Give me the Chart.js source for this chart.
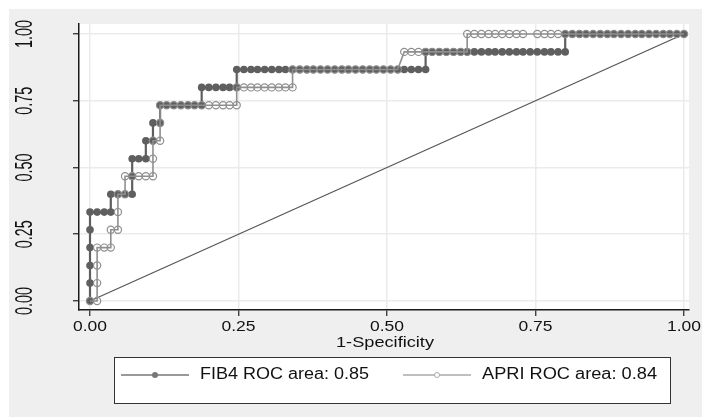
<!DOCTYPE html>
<html>
<head>
<meta charset="utf-8">
<script src="https://cdn.jsdelivr.net/npm/chart.js@4.4.1/dist/chart.umd.min.js"></script>
<style>
  html, body { margin: 0; padding: 0; background: #fff; overflow: hidden; }
  #wrap { position: absolute; left: 9px; top: 9px; }
  canvas { display: block; }
</style>
</head>
<body>
<div id="wrap"><canvas id="roc" width="693" height="408"></canvas></div>
<script>
// axis ticks (same on both axes)
const tickValues = [0, 0.25, 0.5, 0.75, 1];
const tickLabels = ['0.00', '0.25', '0.50', '0.75', '1.00'];
const xTitle = '1-Specificity';
const seriesNames = ['FIB4 ROC area: 0.85', 'APRI ROC area: 0.84'];

// [1-specificity, sensitivity]
const fib4Points = [
    [0, 0], [0, .067], [0, .133], [0, .2], [0, .267], [0, .333],
    [.012, .333], [.024, .333], [.035, .333],
    [.035, .4], [.047, .4], [.059, .4], [.071, .4],
    [.071, .467], [.071, .533], [.082, .533], [.094, .533],
    [.094, .6], [.106, .6],
    [.106, .667], [.118, .667],
    [.118, .733], [.129, .733], [.141, .733], [.153, .733], [.165, .733], [.176, .733], [.188, .733],
    [.188, .8], [.2, .8], [.212, .8], [.224, .8], [.235, .8], [.247, .8],
    [.247, .867], [.259, .867], [.271, .867], [.282, .867], [.294, .867], [.306, .867], [.318, .867],
    [.329, .867], [.341, .867], [.353, .867], [.365, .867], [.376, .867], [.388, .867], [.4, .867],
    [.412, .867], [.424, .867], [.435, .867], [.447, .867], [.459, .867], [.471, .867], [.482, .867],
    [.494, .867], [.506, .867], [.518, .867], [.529, .867], [.541, .867], [.553, .867], [.565, .867],
    [.565, .933], [.576, .933], [.588, .933], [.6, .933], [.612, .933], [.624, .933], [.635, .933],
    [.647, .933], [.659, .933], [.671, .933], [.682, .933], [.694, .933], [.706, .933], [.718, .933],
    [.729, .933], [.741, .933], [.753, .933], [.765, .933], [.776, .933], [.788, .933], [.8, .933],
    [.8, 1], [.812, 1], [.824, 1], [.835, 1], [.847, 1], [.859, 1], [.871, 1], [.882, 1], [.894, 1],
    [.906, 1], [.918, 1], [.929, 1], [.941, 1], [.953, 1], [.965, 1], [.976, 1], [.988, 1], [1, 1]
];

const apriPoints = [
    [0, 0], [.012, 0], [.012, .067], [.012, .133], [.012, .2], [.024, .2], [.035, .2],
    [.035, .267], [.047, .267], [.047, .333], [.047, .4], [.059, .4],
    [.059, .467], [.071, .467], [.082, .467], [.094, .467], [.106, .467],
    [.106, .533], [.106, .6], [.118, .6], [.118, .667], [.118, .733],
    [.129, .733], [.141, .733], [.153, .733], [.165, .733], [.176, .733], [.188, .733],
    [.2, .733], [.212, .733], [.224, .733], [.235, .733], [.247, .733],
    [.247, .8], [.259, .8], [.271, .8], [.282, .8], [.294, .8], [.306, .8], [.318, .8], [.329, .8], [.341, .8],
    [.341, .867], [.353, .867], [.365, .867], [.376, .867], [.388, .867], [.4, .867], [.412, .867],
    [.424, .867], [.435, .867], [.447, .867], [.459, .867], [.471, .867], [.482, .867], [.494, .867],
    [.506, .867], [.518, .867],
    [.529, .933], [.541, .933], [.553, .933], [.565, .933], [.576, .933], [.588, .933], [.6, .933],
    [.612, .933], [.624, .933], [.635, .933],
    [.635, 1], [.647, 1], [.659, 1], [.671, 1], [.682, 1], [.694, 1], [.706, 1], [.718, 1], [.729, 1],
    [.753, 1], [.765, 1], [.776, 1], [.788, 1], [.8, 1], [.812, 1], [.824, 1], [.835, 1], [.847, 1],
    [.859, 1], [.871, 1], [.882, 1], [.894, 1], [.906, 1], [.918, 1], [.929, 1], [.941, 1], [.953, 1],
    [.965, 1], [.976, 1], [.988, 1], [1, 1]
];

const refLine = [[0, 0], [1, 1]];

const FIB4_COLOR = '#5f5f5f';
const APRI_COLOR = '#8f8f8f';
const FONT = '"Liberation Sans", Arial, sans-serif';

function toXY(points) {
    return points.map(p => ({ x: p[0], y: p[1] }));
}

// draw text squeezed/stretched to a given length, like the stretched stata export
function fitText(ctx, txt, x, y, length, rotated, thick) {
    ctx.save();
    ctx.translate(x, y);
    if (rotated) ctx.rotate(-Math.PI / 2);
    const w = ctx.measureText(txt).width;
    ctx.scale(length ? length / w : 1, thick || 1);
    ctx.fillText(txt, 0, 0);
    ctx.restore();
}

function legendItem(ctx, x, y, color, lineW, filled, r, label, textLen) {
    ctx.strokeStyle = color;
    ctx.lineWidth = lineW;
    ctx.beginPath();
    ctx.moveTo(x, y);
    ctx.lineTo(x + 68, y);
    ctx.stroke();
    ctx.beginPath();
    ctx.arc(x + 34, y, r, 0, Math.PI * 2);
    if (filled) {
        ctx.fillStyle = color;
        ctx.fill();
    } else {
        ctx.fillStyle = '#fff';
        ctx.fill();
        ctx.lineWidth = 1;
        ctx.stroke();
    }
    ctx.fillStyle = '#111';
    ctx.textAlign = 'left';
    ctx.textBaseline = 'middle';
    ctx.font = '16px ' + FONT;
    fitText(ctx, label, x + 79, y, textLen);
}

const stataLook = {
    id: 'stataLook',
    beforeDraw(chart) {
        const { ctx, chartArea: a } = chart;
        ctx.save();
        ctx.fillStyle = '#efefef';
        ctx.fillRect(0, 0, chart.width, chart.height);
        ctx.fillStyle = '#fff';
        ctx.fillRect(a.left, a.top, a.right - a.left, a.bottom - a.top);
        ctx.restore();
    },
    afterDraw(chart) {
        const { ctx } = chart;
        const xs = chart.scales.x;
        const ys = chart.scales.y;
        ctx.save();
        ctx.fillStyle = '#111';
        ctx.textAlign = 'center';
        ctx.textBaseline = 'middle';
        ctx.font = '15px ' + FONT;
        tickValues.forEach((v, i) => {
            fitText(ctx, tickLabels[i], xs.getPixelForValue(v), 318, 34);
            fitText(ctx, tickLabels[i], 17, ys.getPixelForValue(v), 28, true, 1.55);
        });
        fitText(ctx, xTitle, (xs.left + xs.right) / 2 + 1, 334, 98);

        // legend box
        ctx.fillStyle = '#fff';
        ctx.fillRect(105, 348, 556, 46);
        ctx.strokeStyle = '#333';
        ctx.lineWidth = 1;
        ctx.strokeRect(105.5, 348.5, 556, 46);
        legendItem(ctx, 112, 366, '#777', 1.5, true, 3, seriesNames[0], 169);
        legendItem(ctx, 394, 366, '#aaa', 1.5, false, 2.5, seriesNames[1], 175);
        ctx.restore();
    }
};

function setTicks(scale) {
    scale.ticks = tickValues.map(v => ({ value: v }));
}

new Chart(document.getElementById('roc'), {
    type: 'scatter',
    data: {
        datasets: [
            {
                label: seriesNames[0],
                data: toXY(fib4Points),
                showLine: true,
                borderColor: FIB4_COLOR,
                borderWidth: 2.2,
                pointRadius: 3.8,
                pointBackgroundColor: FIB4_COLOR,
                pointBorderColor: FIB4_COLOR,
                pointBorderWidth: 0,
                order: 1
            },
            {
                label: seriesNames[1],
                data: toXY(apriPoints),
                showLine: true,
                borderColor: APRI_COLOR,
                borderWidth: 1.6,
                pointRadius: 3.6,
                pointBackgroundColor: 'rgba(0,0,0,0)',
                pointBorderColor: APRI_COLOR,
                pointBorderWidth: 1.2,
                order: 0
            },
            {
                label: 'reference',
                data: toXY(refLine),
                showLine: true,
                borderColor: '#555',
                borderWidth: 1.2,
                pointRadius: 0,
                order: 2
            }
        ]
    },
    options: {
        responsive: false,
        animation: false,
        layout: { padding: { left: 0, top: 15, right: 13, bottom: 0 } },
        plugins: { legend: { display: false }, tooltip: { enabled: false } },
        elements: { line: { tension: 0 } },
        scales: {
            x: {
                type: 'linear',
                min: -0.01852,
                max: 1.00842,
                afterBuildTicks: setTicks,
                afterFit: s => { s.height = 107; },
                ticks: { display: false },
                grid: { color: '#ebebeb', lineWidth: 1.5, tickColor: '#222', tickLength: 6, tickWidth: 1.2 },
                border: { display: true, color: '#1a1a1a', width: 1.5 }
            },
            y: {
                type: 'linear',
                min: -0.03371,
                max: 1.03745,
                afterBuildTicks: setTicks,
                afterFit: s => { s.width = 70; },
                ticks: { display: false },
                grid: { color: '#ebebeb', lineWidth: 1.5, tickColor: '#222', tickLength: 6, tickWidth: 1.2 },
                border: { display: true, color: '#1a1a1a', width: 1.5 }
            }
        }
    },
    plugins: [stataLook]
});
</script>
</body>
</html>
